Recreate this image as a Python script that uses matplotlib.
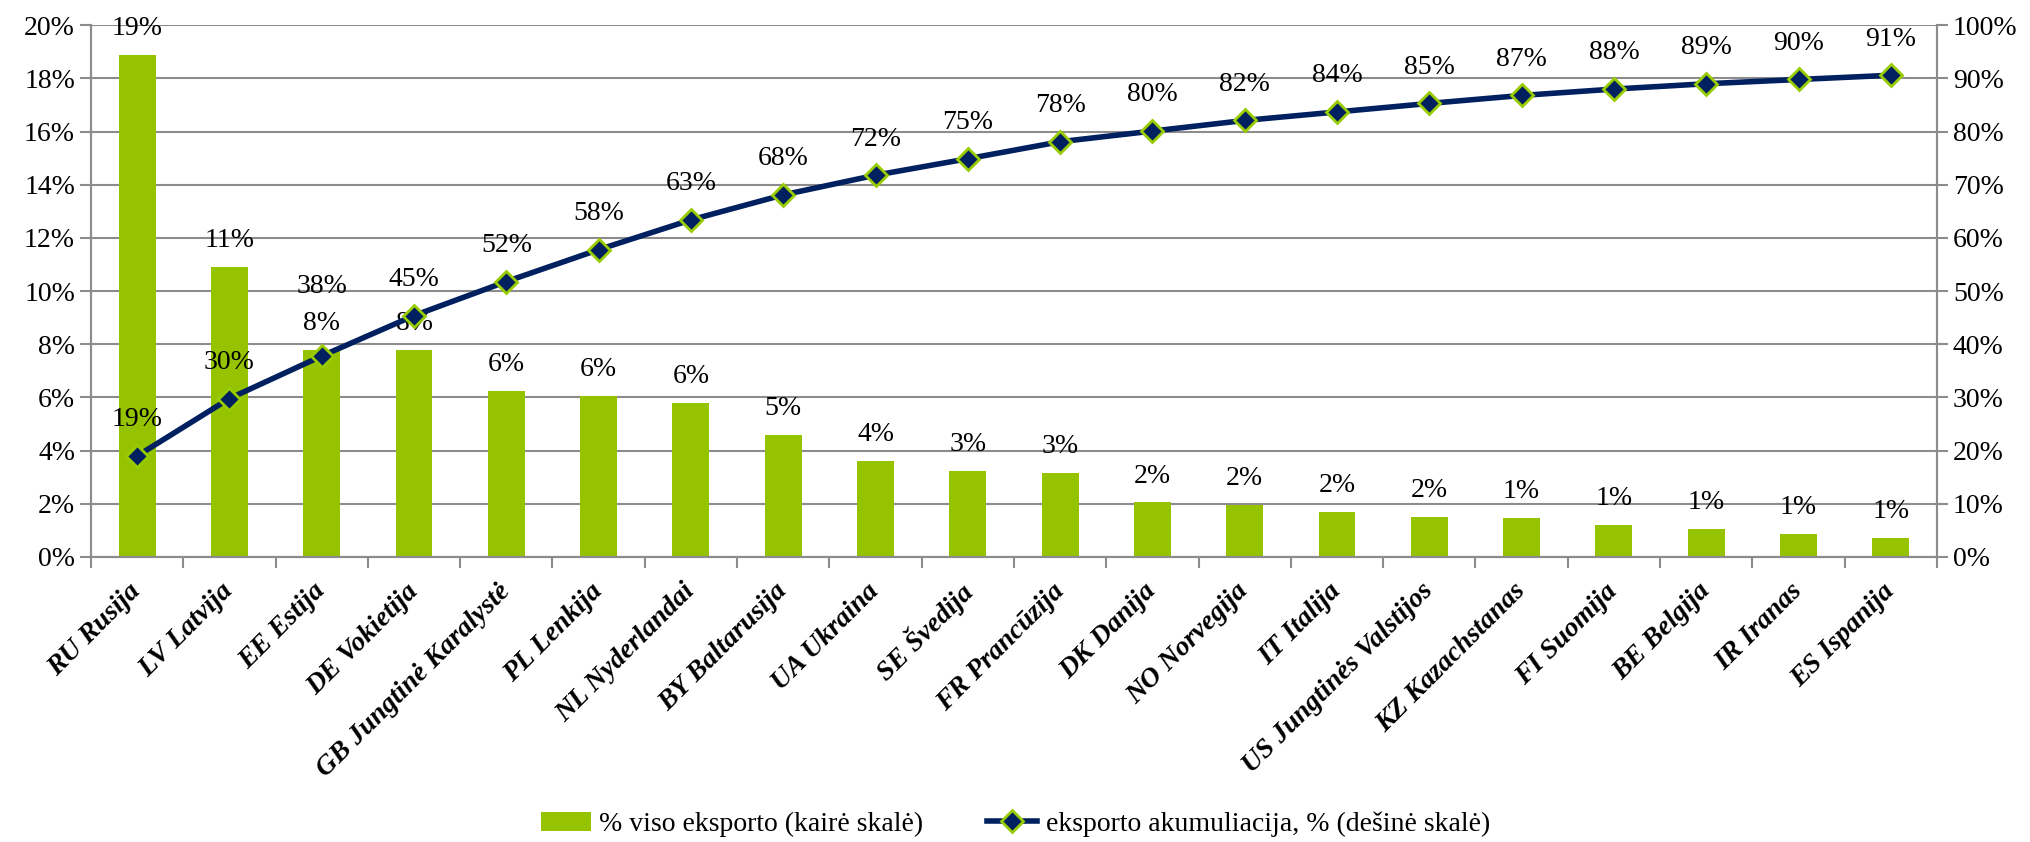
import matplotlib
matplotlib.use("Agg")
import matplotlib.pyplot as plt
from matplotlib.ticker import PercentFormatter

plt.rcParams['font.family'] = ['Liberation Serif', 'DejaVu Serif']

# export shares by country, % of total export (left scale)
countries = ["RU Rusija", "LV Latvija", "EE Estija", "DE Vokietija",
             "GB Jungtinė Karalystė", "PL Lenkija", "NL Nyderlandai",
             "BY Baltarusija", "UA Ukraina", "SE Švedija", "FR Prancūzija",
             "DK Danija", "NO Norvegija", "IT Italija", "US Jungtinės Valstijos",
             "KZ Kazachstanas", "FI Suomija", "BE Belgija", "IR Iranas",
             "ES Ispanija"]
share = [18.9, 10.9, 7.8, 7.8, 6.25, 6.05, 5.8, 4.6, 3.6, 3.25, 3.15,
         2.05, 1.95, 1.7, 1.52, 1.48, 1.2, 1.05, 0.85, 0.7]
# cumulative export, % (right scale)
cumul = [19.0, 29.8, 37.8, 45.4, 51.8, 57.8, 63.4, 68.1, 71.8, 74.9, 78.1,
         80.1, 82.1, 83.7, 85.3, 86.8, 88.0, 89.0, 89.8, 90.6]

bar_color = "#95c300"
line_color = "#002060"
grid_color = "#8c8c8c"
fs = 20

fig, ax = plt.subplots(figsize=(20.31, 8.42), dpi=100)
fig.subplots_adjust(left=0.0448, right=0.9537, top=0.970, bottom=0.3385)

x = list(range(len(countries)))
ax.bar(x, share, width=0.4, color=bar_color, zorder=2,
       label="% viso eksporto (kairė skalė)")
for xi, v in zip(x, share):
    ax.annotate(f"{round(v):d}%", (xi, v), xytext=(0, 19), textcoords="offset points",
                ha="center", va="center", fontsize=fs, zorder=5)

ax.set_ylim(0, 20)
ax.set_xlim(-0.5, len(countries) - 0.5)
ax.set_yticks(range(0, 21, 2))
ax.yaxis.set_major_formatter(PercentFormatter(decimals=0))
ax.grid(axis="y", color=grid_color, linewidth=1.5, zorder=0)
ax.set_axisbelow(True)

ax.set_xticks(x)
ax.set_xticklabels(countries, rotation=45, ha="right", va="center",
                   rotation_mode="anchor", fontsize=fs,
                   fontweight="bold", fontstyle="italic")
ax.set_xticks([i + 0.5 for i in range(-1, len(countries))], minor=True)
ax.tick_params(axis="x", which="major", length=0, pad=22)
ax.tick_params(axis="x", which="minor", length=8, color=grid_color, width=1.5)
ax.tick_params(axis="y", labelsize=fs, length=8, color=grid_color, width=1.5)

ax2 = ax.twinx()
ax2.plot(x, cumul, color=line_color, linewidth=4, marker="D", markersize=11,
         markerfacecolor=line_color, markeredgecolor="#99cc00", markeredgewidth=2,
         zorder=4, label="eksporto akumuliacija, % (dešinė skalė)")
# the label over EE sits higher in the original so it clears the bar label
for i, (xi, v) in enumerate(zip(x, cumul)):
    dy = 50 if i == 2 else 26
    ax2.annotate(f"{round(v):d}%", (xi, v), xytext=(0, dy), textcoords="offset points",
                 ha="center", va="center", fontsize=fs, zorder=5)
ax2.set_ylim(0, 100)
ax2.set_yticks(range(0, 101, 10))
ax2.yaxis.set_major_formatter(PercentFormatter(decimals=0))
ax2.tick_params(axis="y", labelsize=fs, length=8, color=grid_color, width=1.5)

for a in (ax, ax2):
    a.spines["top"].set_visible(False)
    for s in ("left", "right", "bottom"):
        a.spines[s].set_color(grid_color)
        a.spines[s].set_linewidth(1.5)

h1, l1 = ax.get_legend_handles_labels()
h2, l2 = ax2.get_legend_handles_labels()
fig.legend(h1 + h2, l1 + l2, loc="center", bbox_to_anchor=(0.5, 0.021), ncol=2,
           frameon=False, fontsize=fs, columnspacing=2.3, handlelength=1.8,
           handletextpad=0.3)

fig.savefig("out.png", dpi=100)
